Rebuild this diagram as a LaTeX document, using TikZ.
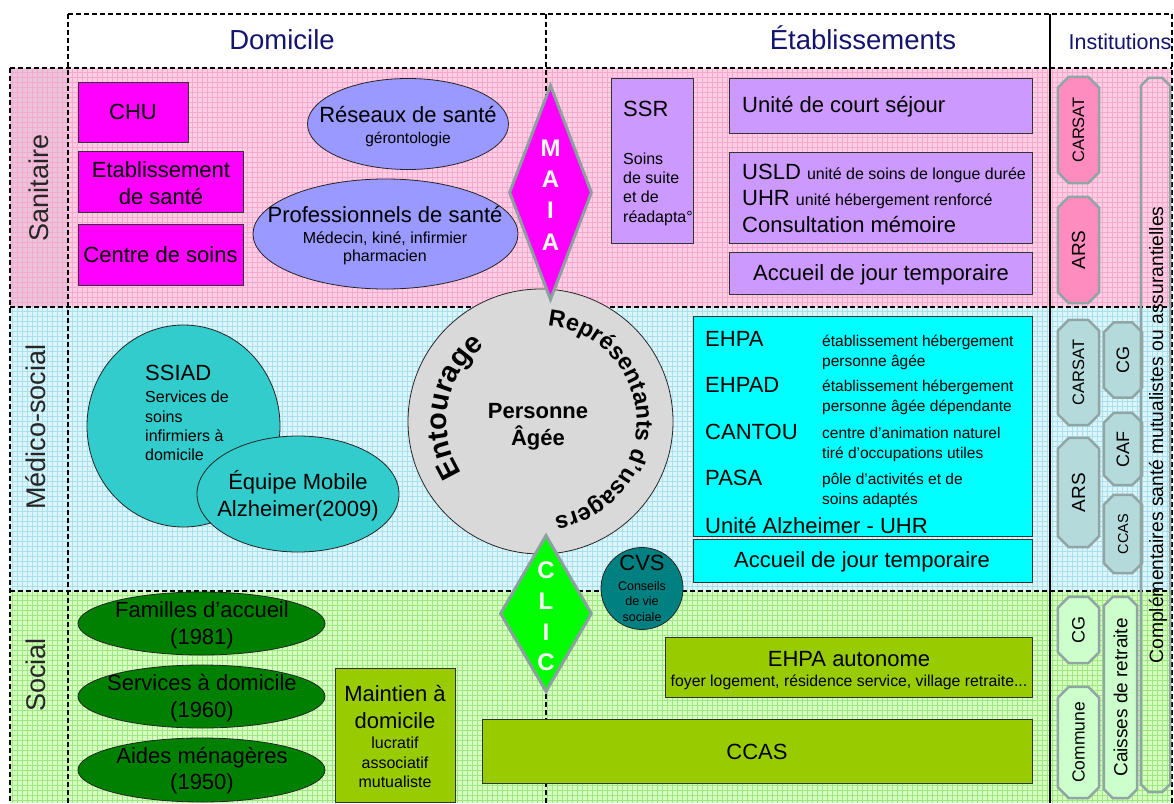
\documentclass[tikz,border=0pt]{standalone}
\usepackage{fontspec}
\setmainfont{Liberation Sans}
\usepackage{graphicx}
\usetikzlibrary{shapes.geometric,decorations.text}

\definecolor{navy}{RGB}{20,20,110}
\definecolor{sanbg}{RGB}{255,206,228}
\definecolor{sangrid}{RGB}{246,168,206}
\definecolor{sanlab}{RGB}{234,196,218}
\definecolor{medbg}{RGB}{220,245,250}
\definecolor{medgrid}{RGB}{168,224,238}
\definecolor{socbg}{RGB}{214,255,194}
\definecolor{socgrid}{RGB}{158,232,128}
\definecolor{magentaF}{RGB}{255,0,255}
\definecolor{periw}{RGB}{153,153,255}
\definecolor{lilac}{RGB}{204,153,255}
\definecolor{turq}{RGB}{51,204,204}
\definecolor{cyanF}{RGB}{0,255,255}
\definecolor{dgreen}{RGB}{0,128,0}
\definecolor{oliveF}{RGB}{153,204,0}
\definecolor{tealF}{RGB}{0,128,128}
\definecolor{lgray}{RGB}{217,217,217}
\definecolor{diabord}{RGB}{140,160,160}
\definecolor{instpink}{RGB}{255,140,190}
\definecolor{instcyan}{RGB}{180,218,220}
\definecolor{instgreen}{RGB}{204,255,204}
\definecolor{instbord}{RGB}{145,165,165}
\definecolor{brightgreen}{RGB}{0,255,0}

% #1 name, #2 cx, #3 cy, #4 w, #5 h, #6 fill, #7 chamfer, #8 text
\newcommand{\instbox}[8]{%
  \node[minimum width=#4, minimum height=#5, inner sep=0pt] (#1) at (#2,#3) {};
  \filldraw[instline, fill=#6] ([xshift=#7]#1.north west) -- ([xshift=-#7]#1.north east)
    -- ([yshift=-#7]#1.north east) -- ([yshift=#7]#1.south east)
    -- ([xshift=-#7]#1.south east) -- ([xshift=#7]#1.south west)
    -- ([yshift=#7]#1.south west) -- ([yshift=-#7]#1.north west) -- cycle;
  \node[inner sep=0pt, rotate=90] (#1t) at (#1) {#8};
}

\begin{document}
\begin{tikzpicture}[x=1pt,y=-1pt,
  rbox/.style={rectangle, draw=black!80, line width=0.8pt, inner sep=0pt},
  ell/.style={ellipse, draw=black!85, line width=0.8pt, inner sep=0pt},
  diam/.style={diamond, draw=diabord, line width=3pt, inner sep=0pt},
  instline/.style={draw=instbord, line width=2.5pt, line join=round},
  txt/.style={inner sep=0pt, align=center},
  fA/.style={font=\fontsize{22}{27}\selectfont},
  fB/.style={font=\fontsize{16}{19.3}\selectfont},
  fD/.style={font=\fontsize{15.5}{20}\selectfont},
  lab/.style={font=\fontsize{27}{27}\selectfont, text=black!85, inner sep=0pt, rotate=90},
  hdr/.style={font=\fontsize{27.5}{28}\selectfont, text=navy, inner sep=0pt, anchor=base},
  dashline/.style={black, line width=1.8pt, dash pattern=on 5pt off 3pt},
  gridline/.style={line width=0.45pt}
]
\useasboundingbox (0,0) rectangle (1174,803);
\fill[white] (0,0) rectangle (1174,803);

% row backgrounds
\fill[sanbg] (10,68) rectangle (1172,307);
\fill[sanlab] (10,68) rectangle (68,307);
\fill[medbg] (10,307) rectangle (1172,591);
\fill[socbg] (10,591) rectangle (1172,803);

% grids
\draw[gridline, sangrid] \foreach \x in {12,17,...,1170} {(\x,68) -- (\x,307)} \foreach \y in {72,77,...,305} {(10,\y) -- (1172,\y)};
\draw[gridline, medgrid] \foreach \x in {12,17,...,1170} {(\x,307) -- (\x,591)} \foreach \y in {311,316,...,590} {(10,\y) -- (1172,\y)};
\draw[gridline, socgrid] \foreach \x in {12,17,...,1170} {(\x,591) -- (\x,803)} \foreach \y in {595,600,...,803} {(10,\y) -- (1172,\y)};

% frame lines
\draw[dashline] (68,14) -- (1172,14);
\draw[dashline] (10,68) -- (1172,68);
\draw[dashline] (10,307) -- (1172,307);
\draw[dashline] (10,591) -- (1172,591);
\draw[dashline] (10,68) -- (10,803);
\draw[dashline] (68,14) -- (68,803);
\draw[dashline] (546,14) -- (546,803);
\draw[dashline] (1172,14) -- (1172,803);
\draw[black, line width=1.8pt] (1050,14) -- (1050,803);

% headers
\node[hdr] (hdom) at (282,49) {Domicile};
\node[hdr] (hetab) at (863,49) {Établissements};
\node[hdr, font=\fontsize{21.5}{22}\selectfont] (hinst) at (1120,49) {Institutions};

% row labels
\node[lab] (lsan) at (39,188) {Sanitaire};
\node[lab] (lmed) at (36,427) {Médico-social};
\node[lab] (lsoc) at (36,675) {Social};

% ---------- Sanitaire ----------
\node[rbox, fill=magentaF, minimum width=110, minimum height=60] (chu) at (133,112) {};
\node[txt, fA] (chut) at (133,112) {CHU};
\node[rbox, fill=magentaF, minimum width=165, minimum height=61] (etab) at (160.5,181.5) {};
\node[txt, fA] (etabt) at (161,183.5) {Etablissement\\de santé};
\node[rbox, fill=magentaF, minimum width=165, minimum height=61] (cds) at (160.5,254.5) {};
\node[txt, fA] (cdst) at (160.5,255) {Centre de soins};

\node[ell, fill=periw, minimum width=201, minimum height=91] (res) at (408,124) {};
\node[txt, fA] (rest1) at (408,115) {Réseaux de santé};
\node[txt, font=\fontsize{15.5}{18}\selectfont] (rest2) at (408,139) {gérontologie};
\node[ell, fill=periw, minimum width=265, minimum height=110] (pro) at (385.5,234) {};
\node[txt, fA] (prot1) at (385,215) {Professionnels de santé};
\node[txt, font=\fontsize{16}{18}\selectfont] (prot2) at (385,248) {Médecin, kiné, infirmier\\pharmacien};

\node[rbox, fill=lilac, minimum width=82, minimum height=165] (ssr) at (652,160.5) {};
\node[txt, fA, anchor=west] (ssrt) at (623,109) {SSR};
\node[txt, fB, align=left, anchor=west] (ssrt2) at (623,189) {Soins\\de suite\\et de\\réadapta°};

\node[rbox, fill=lilac, minimum width=303, minimum height=55] (ucs) at (880.5,105.5) {};
\node[txt, fA, anchor=west] (ucst) at (742,107) {Unité de court séjour};
\node[rbox, fill=lilac, minimum width=303, minimum height=91] (usld) at (880.5,197.5) {};
\node[txt, anchor=base west] (usldt1) at (742,179) {\fontsize{22}{22}\selectfont USLD \fontsize{16}{16}\selectfont unité de soins de longue durée};
\node[txt, anchor=base west] (usldt2) at (742,205) {\fontsize{22}{22}\selectfont UHR \fontsize{16}{16}\selectfont unité hébergement renforcé};
\node[txt, fA, anchor=base west] (usldt3) at (742,232) {Consultation mémoire};
\node[rbox, fill=lilac, minimum width=303, minimum height=42] (acc1) at (880.5,273) {};
\node[txt, fA] (acc1t) at (881,275) {Accueil de jour temporaire};

% ---------- Médico-social ----------
\node[ell, fill=turq, minimum width=193, minimum height=202] (ssiad) at (183.5,426) {};
\node[txt, fA, anchor=west] (ssiadt1) at (145,373) {SSIAD};
\node[txt, fB, align=left, anchor=west] (ssiadt2) at (145,426) {Services de\\soins\\infirmiers à\\domicile};
\node[ell, fill=turq, minimum width=202, minimum height=116] (ema) at (298,494) {};
\node[txt, fA] (emat) at (298,495.5) {Équipe Mobile\\Alzheimer(2009)};

\node[circle, draw=black!85, line width=0.8pt, fill=lgray, minimum size=265, inner sep=0pt] (pa) at (540.5,421.5) {};
\node[txt, font=\fontsize{22}{27}\selectfont\bfseries] (pat) at (538,427) {Personne\\Âgée};
\begin{scope}[y=1pt]
\path[decorate, decoration={text along path, text align=center, text={|\fontsize{29}{29}\selectfont\bfseries|Entourage}}] (540.5,-421.5) ++(222:94) arc (222:118:94);
\path[decorate, decoration={text along path, text align=center, text={|\fontsize{23.5}{23.5}\selectfont\bfseries|Représentants d'usagers}}] (540.5,-421.5) ++(90:96) arc (90:-86:96);
\end{scope}

\node[rbox, fill=cyanF, minimum width=339, minimum height=220] (ehpa) at (862.5,426) {};
\node[txt, fA, anchor=west] (e1) at (705,339) {EHPA};
\node[txt, fA, anchor=west] (e2) at (705,385) {EHPAD};
\node[txt, fA, anchor=west] (e3) at (705,432) {CANTOU};
\node[txt, fA, anchor=west] (e4) at (705,478) {PASA};
\node[txt, fA, anchor=west] (e5) at (705,525) {Unité Alzheimer - UHR};
\node[txt, fD, align=left, anchor=west] (d1) at (822,352) {établissement hébergement\\personne âgée};
\node[txt, fD, align=left, anchor=west] (d2) at (822,397) {établissement hébergement\\personne âgée dépendante};
\node[txt, fD, align=left, anchor=west] (d3) at (822,444) {centre d'animation naturel\\tiré d'occupations utiles};
\node[txt, fD, align=left, anchor=west] (d4) at (822,490) {pôle d'activités et de\\soins adaptés};
\node[rbox, fill=cyanF, minimum width=339, minimum height=43] (acc2) at (862.5,560.5) {};
\node[txt, fA] (acc2t) at (862,562) {Accueil de jour temporaire};

\node[circle, draw=black!85, line width=0.8pt, fill=tealF, minimum size=82, inner sep=0pt] (cvs) at (642,588.5) {};
\node[txt, fA] (cvst) at (642,563) {CVS};
\node[txt, font=\fontsize{12.5}{15.5}\selectfont] (cvst2) at (642,601.5) {Conseils\\de vie\\sociale};

% diamonds
\node[diam, fill=magentaF, minimum width=83, minimum height=215] (maia) at (550.5,192.5) {};
\node[txt, text=white, font=\fontsize{24}{31.3}\selectfont\bfseries] (maiat) at (550.5,195) {M\\A\\I\\A};
\node[diam, fill=brightgreen, minimum width=92, minimum height=157] (clic) at (546,613.5) {};
\node[txt, text=white, font=\fontsize{24}{30.7}\selectfont\bfseries] (clict) at (546,616.5) {C\\L\\I\\C};

% ---------- Social ----------
\node[ell, fill=dgreen, minimum width=247, minimum height=63] (fam) at (201.5,623.5) {};
\node[txt, fA] (famt) at (202,625.5) {Familles d’accueil\\(1981)};
\node[ell, fill=dgreen, minimum width=247, minimum height=63] (sad) at (201.5,696.5) {};
\node[txt, fA] (sadt) at (202,698.5) {Services à domicile\\(1960)};
\node[ell, fill=dgreen, minimum width=247, minimum height=64] (aid) at (201.5,770) {};
\node[txt, font=\fontsize{22}{25.5}\selectfont] (aidt) at (202,770.5) {Aides ménagères\\(1950)};

\node[rbox, fill=oliveF, minimum width=120, minimum height=134] (mad) at (395,735) {};
\node[txt, fA] (madt1) at (395,706.5) {Maintien à\\domicile};
\node[txt, fB] (madt2) at (395,762.5) {lucratif\\associatif\\mutualiste};

\node[rbox, fill=oliveF, minimum width=367, minimum height=60] (ehpaa) at (848.5,667) {};
\node[txt, fA] (ehpaat1) at (849,659) {EHPA autonome};
\node[txt, font=\fontsize{15.8}{16}\selectfont] (ehpaat2) at (849,682) {foyer logement, résidence service, village retraite...};

\node[rbox, fill=oliveF, minimum width=550, minimum height=64] (ccas) at (757,751) {};
\node[txt, fA] (ccast) at (757,752) {CCAS};

% ---------- Institutions ----------
\instbox{icar1}{1078.5}{130}{41}{106}{instpink}{11pt}{\fontsize{16.5}{17}\selectfont CARSAT}
\instbox{iars1}{1078.5}{250}{41}{106}{instpink}{11pt}{\fontsize{19}{19}\selectfont ARS}
\instbox{icar2}{1078.5}{372.5}{41}{105}{instcyan}{11pt}{\fontsize{16.5}{17}\selectfont CARSAT}
\instbox{iars2}{1078.5}{492.5}{41}{109}{instcyan}{11pt}{\fontsize{19}{19}\selectfont ARS}
\instbox{icg2}{1123}{360}{38}{75}{instcyan}{10pt}{\fontsize{18}{18}\selectfont CG}
\instbox{icaf}{1123}{449}{38}{72}{instcyan}{10pt}{\fontsize{18}{18}\selectfont CAF}
\instbox{iccas}{1123}{534}{38}{78}{instcyan}{10pt}{\fontsize{14.5}{15}\selectfont CCAS}
\instbox{icg3}{1078.5}{630}{41}{66}{instgreen}{11pt}{\fontsize{18}{18}\selectfont CG}
\instbox{icom}{1078.5}{742.5}{41}{111}{instgreen}{11pt}{\fontsize{17.5}{18}\selectfont Commune}
\instbox{icais}{1120.5}{697.5}{33}{201}{instgreen}{9pt}{\fontsize{19}{19}\selectfont Caisses de retraite}
\node[minimum width=29, minimum height=714, inner sep=0pt] (icomp) at (1155.5,435) {};
\draw[instline] ([xshift=8pt]icomp.north west) -- ([xshift=-8pt]icomp.north east)
    -- ([yshift=-8pt]icomp.north east) -- ([yshift=8pt]icomp.south east)
    -- ([xshift=-8pt]icomp.south east) -- ([xshift=8pt]icomp.south west)
    -- ([yshift=8pt]icomp.south west) -- ([yshift=-8pt]icomp.north west) -- cycle;
\node[txt, rotate=90, font=\fontsize{19.3}{20}\selectfont] (icompt) at (1158,435) {Complémentaires santé mutualistes ou assurantielles};
\end{tikzpicture}
\end{document}
